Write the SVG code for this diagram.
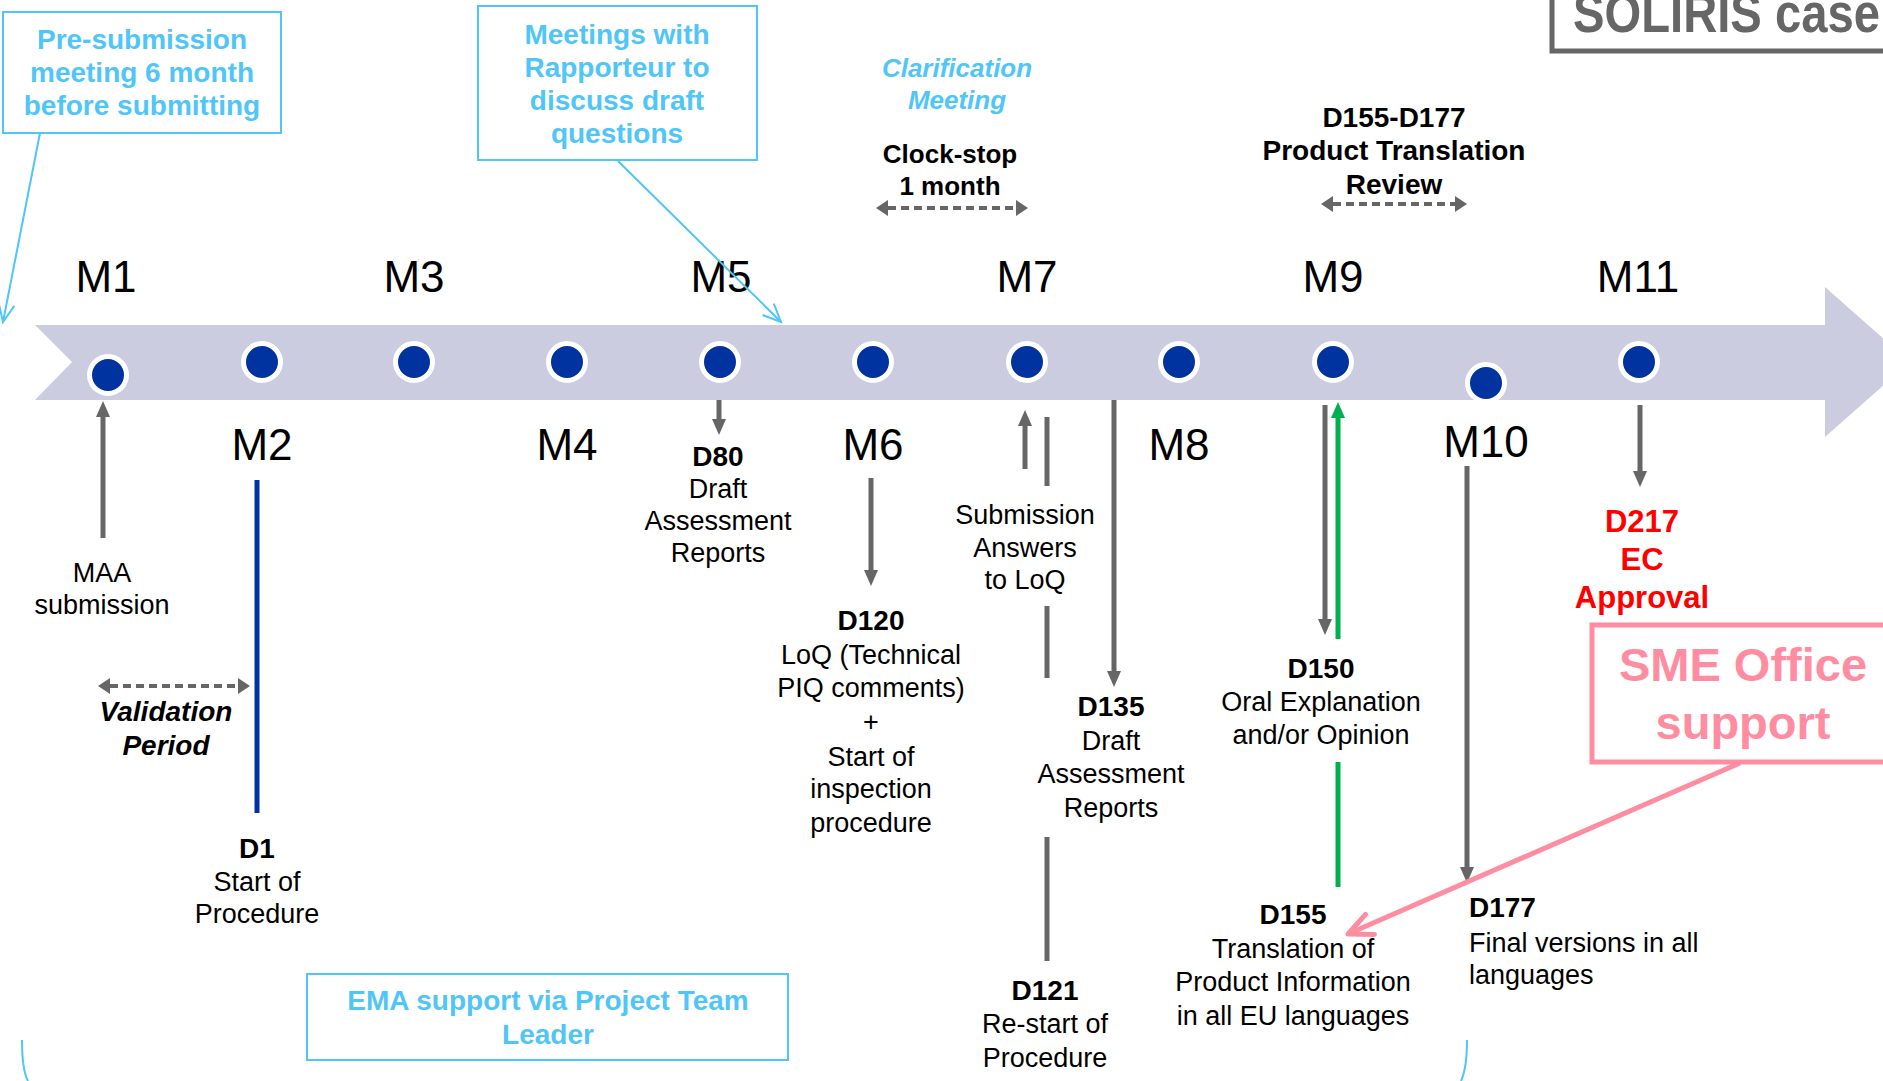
<svg xmlns="http://www.w3.org/2000/svg" width="1883" height="1081" viewBox="0 0 1883 1081">
<defs>
<style>
text{font-family:"Liberation Sans",Arial,Helvetica,sans-serif;font-size:27px;fill:#000}
.c{text-anchor:middle}
.b{font-weight:bold;font-size:28px}
.bi{font-weight:bold;font-style:italic;font-size:28px}
.m{font-size:44px}
.lb{fill:#50C5F8;font-weight:bold;font-size:28px}
.red{fill:#FF0000;font-weight:bold;font-size:31px}
.pk{fill:#FF8DA1;font-weight:bold;font-size:47px}
.gl{stroke:#666;stroke-width:5;fill:none}
.dl{stroke:#666;stroke-width:4;stroke-dasharray:8 5;fill:none}
.bl{stroke:#50C5F8;stroke-width:2;fill:none}
.dot{fill:#0033A0;stroke:#fff;stroke-width:5}
</style>
<marker id="ah" markerUnits="userSpaceOnUse" markerWidth="16" markerHeight="14" refX="0" refY="7" orient="auto" overflow="visible"><path d="M0,0 L16,7 L0,14 z" fill="#666"/></marker>
<marker id="ahg" markerUnits="userSpaceOnUse" markerWidth="16" markerHeight="14" refX="0" refY="7" orient="auto" overflow="visible"><path d="M0,0 L16,7 L0,14 z" fill="#00B050"/></marker>
<marker id="dh" markerUnits="userSpaceOnUse" markerWidth="12" markerHeight="16" refX="0" refY="8" orient="auto-start-reverse" overflow="visible"><path d="M0,0 L12,8 L0,16 z" fill="#666"/></marker>
<marker id="ob" markerUnits="userSpaceOnUse" markerWidth="18" markerHeight="16" refX="18" refY="8" orient="auto" overflow="visible"><path d="M0,0 L18,8 L0,16" fill="none" stroke="#50C5F8" stroke-width="2"/></marker>
<marker id="op" markerUnits="userSpaceOnUse" markerWidth="24" markerHeight="22" refX="24" refY="11" orient="auto" overflow="visible"><path d="M0,0 L24,11 L0,22" fill="none" stroke="#FF8DA1" stroke-width="5" stroke-linecap="round" stroke-linejoin="round"/></marker>
</defs>
<rect width="1883" height="1081" fill="#fff"/>

<g id="timeline">
<polygon points="35,325 1825,325 1825,287 1910,362 1825,437 1825,400 35,400 72,362" fill="#CBCCDF"/>
</g>

<g id="dots">
<circle class="dot" cx="108" cy="375" r="18.5"/>
<circle class="dot" cx="262" cy="362" r="18.5"/>
<circle class="dot" cx="414" cy="362" r="18.5"/>
<circle class="dot" cx="567" cy="362" r="18.5"/>
<circle class="dot" cx="720" cy="362" r="18.5"/>
<circle class="dot" cx="873" cy="362" r="18.5"/>
<circle class="dot" cx="1027" cy="362" r="18.5"/>
<circle class="dot" cx="1179" cy="362" r="18.5"/>
<circle class="dot" cx="1333" cy="362" r="18.5"/>
<circle class="dot" cx="1486" cy="383" r="18.5"/>
<circle class="dot" cx="1639" cy="362" r="18.5"/>
</g>

<g id="months">
<text class="m c" x="106" y="292">M1</text>
<text class="m c" x="262" y="460">M2</text>
<text class="m c" x="414" y="292">M3</text>
<text class="m c" x="567" y="460">M4</text>
<text class="m c" x="721" y="292">M5</text>
<text class="m c" x="873" y="460">M6</text>
<text class="m c" x="1027" y="292">M7</text>
<text class="m c" x="1179" y="460">M8</text>
<text class="m c" x="1333" y="292">M9</text>
<text class="m c" x="1486" y="457">M10</text>
<text class="m c" x="1638" y="292">M11</text>
</g>

<g id="soliris">
<rect x="1552" y="-30" width="400" height="81" fill="none" stroke="#666" stroke-width="5"/>
<text x="1573" y="32" textLength="307" lengthAdjust="spacingAndGlyphs" style="font-weight:bold;font-size:56px;fill:#666">SOLIRIS case</text>
</g>

<g id="presubmission">
<rect x="3" y="12" width="278" height="121" fill="#fff" stroke="#50C5F8" stroke-width="2"/>
<text class="lb c"><tspan x="142" y="49">Pre-submission</tspan><tspan x="142" y="82">meeting 6 month</tspan><tspan x="142" y="115">before submitting</tspan></text>
</g>

<g id="meetings">
<rect x="478" y="6" width="279" height="154" fill="#fff" stroke="#50C5F8" stroke-width="2"/>
<text class="lb c"><tspan x="617" y="44">Meetings with</tspan><tspan x="617" y="77">Rapporteur to</tspan><tspan x="617" y="110">discuss draft</tspan><tspan x="617" y="143">questions</tspan></text>
</g>

<g id="clarification">
<text class="c" style="fill:#50C5F8;font-weight:bold;font-style:italic;font-size:26px"><tspan x="957" y="77">Clarification</tspan><tspan x="957" y="109">Meeting</tspan></text>
</g>

<g id="clockstop">
<text class="c" style="font-weight:bold;font-size:26px"><tspan x="950" y="163">Clock-stop</tspan><tspan x="950" y="195">1 month</tspan></text>
</g>

<g id="translation-review">
<text class="b c"><tspan x="1394" y="127">D155-D177</tspan><tspan x="1394" y="160">Product Translation</tspan><tspan x="1394" y="194">Review</tspan></text>
</g>

<g id="maa">
<text class="c"><tspan x="102" y="582">MAA</tspan><tspan x="102" y="614">submission</tspan></text>
</g>

<g id="validation">
<text class="bi c"><tspan x="166" y="721">Validation</tspan><tspan x="166" y="755">Period</tspan></text>
</g>

<g id="d1">
<text class="c"><tspan class="b" x="257" y="858">D1</tspan><tspan x="257" y="891">Start of</tspan><tspan x="257" y="923">Procedure</tspan></text>
</g>

<g id="d80">
<text class="c"><tspan class="b" x="718" y="466">D80</tspan><tspan x="718" y="498">Draft</tspan><tspan x="718" y="530">Assessment</tspan><tspan x="718" y="562">Reports</tspan></text>
</g>

<g id="d120">
<text class="c"><tspan class="b" x="871" y="630">D120</tspan><tspan x="871" y="664">LoQ (Technical</tspan><tspan x="871" y="697">PIQ comments)</tspan><tspan x="871" y="731">+</tspan><tspan x="871" y="766">Start of</tspan><tspan x="871" y="798">inspection</tspan><tspan x="871" y="832">procedure</tspan></text>
</g>

<g id="submission-answers">
<text class="c"><tspan x="1025" y="524">Submission</tspan><tspan x="1025" y="557">Answers</tspan><tspan x="1025" y="589">to LoQ</tspan></text>
</g>

<g id="d135">
<text class="c"><tspan class="b" x="1111" y="716">D135</tspan><tspan x="1111" y="750">Draft</tspan><tspan x="1111" y="783">Assessment</tspan><tspan x="1111" y="817">Reports</tspan></text>
</g>

<g id="d121">
<text class="c"><tspan class="b" x="1045" y="1000">D121</tspan><tspan x="1045" y="1033">Re-start of</tspan><tspan x="1045" y="1067">Procedure</tspan></text>
</g>

<g id="d150">
<text class="c"><tspan class="b" x="1321" y="678">D150</tspan><tspan x="1321" y="711">Oral Explanation</tspan><tspan x="1321" y="744">and/or Opinion</tspan></text>
</g>

<g id="d155">
<text class="c"><tspan class="b" x="1293" y="924">D155</tspan><tspan x="1293" y="958">Translation of</tspan><tspan x="1293" y="991">Product Information</tspan><tspan x="1293" y="1025">in all EU languages</tspan></text>
</g>

<g id="d177">
<text><tspan class="b" x="1469" y="917">D177</tspan><tspan x="1469" y="952">Final versions in all</tspan><tspan x="1469" y="984">languages</tspan></text>
</g>

<g id="d217">
<text class="red c"><tspan x="1642" y="532">D217</tspan><tspan x="1642" y="570">EC</tspan><tspan x="1642" y="608">Approval</tspan></text>
</g>

<g id="sme">
<rect x="1592" y="625" width="400" height="137" fill="#fff" stroke="#FF8DA1" stroke-width="5"/>
<text class="pk c"><tspan x="1743" y="681">SME Office</tspan><tspan x="1743" y="739">support</tspan></text>
</g>

<g id="ema">
<rect x="307" y="974" width="481" height="86" fill="#fff" stroke="#50C5F8" stroke-width="2"/>
<text class="lb c"><tspan x="548" y="1010">EMA support via Project Team</tspan><tspan x="548" y="1044">Leader</tspan></text>
</g>

<g id="connectors">
<line class="gl" x1="103" y1="538" x2="103" y2="417" marker-end="url(#ah)"/>
<line x1="257" y1="480" x2="257" y2="813" stroke="#0033A0" stroke-width="5"/>
<line class="dl" x1="110" y1="686" x2="238" y2="686" marker-start="url(#dh)" marker-end="url(#dh)"/>
<line class="gl" x1="719" y1="400" x2="719" y2="419" marker-end="url(#ah)"/>
<line class="gl" x1="871" y1="478" x2="871" y2="570" marker-end="url(#ah)"/>
<line class="gl" x1="1025" y1="469" x2="1025" y2="426" marker-end="url(#ah)"/>
<line class="gl" x1="1047" y1="417" x2="1047" y2="486"/>
<line class="gl" x1="1047" y1="606" x2="1047" y2="678"/>
<line class="gl" x1="1047" y1="837" x2="1047" y2="961"/>
<line class="gl" x1="1114" y1="400" x2="1114" y2="671" marker-end="url(#ah)"/>
<line class="gl" x1="1325" y1="405" x2="1325" y2="619" marker-end="url(#ah)"/>
<line x1="1338" y1="639" x2="1338" y2="418" stroke="#00B050" stroke-width="5" marker-end="url(#ahg)"/>
<line x1="1338" y1="762" x2="1338" y2="887" stroke="#00B050" stroke-width="5"/>
<line class="gl" x1="1467" y1="466" x2="1467" y2="867" marker-end="url(#ah)"/>
<line class="gl" x1="1640" y1="405" x2="1640" y2="471" marker-end="url(#ah)"/>
<line class="dl" x1="888" y1="208" x2="1016" y2="208" marker-start="url(#dh)" marker-end="url(#dh)"/>
<line class="dl" x1="1333" y1="204" x2="1455" y2="204" marker-start="url(#dh)" marker-end="url(#dh)"/>
<line class="bl" x1="40" y1="133" x2="3" y2="322" marker-end="url(#ob)"/>
<line class="bl" x1="618" y1="161" x2="781" y2="322" marker-end="url(#ob)"/>
<line x1="1740" y1="763" x2="1348" y2="934" stroke="#FF8DA1" stroke-width="5" marker-end="url(#op)"/>
<path class="bl" d="M22,1040 Q22,1070 28,1081"/>
<path class="bl" d="M1467,1040 Q1467,1068 1461,1081"/>
</g>
</svg>
